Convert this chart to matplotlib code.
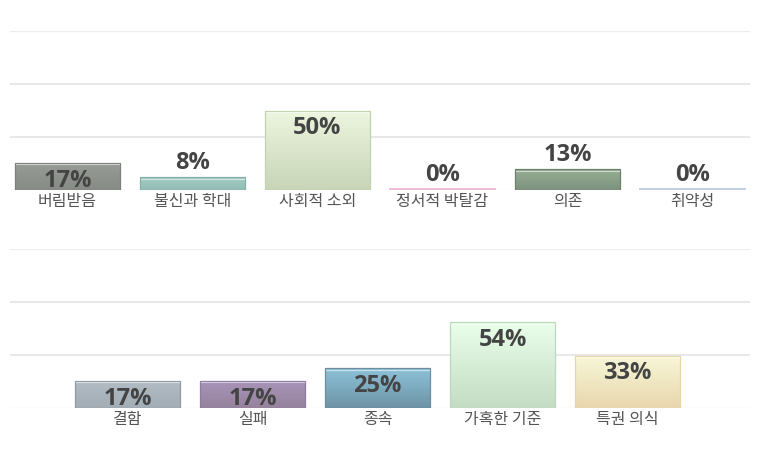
import numpy as np
import matplotlib.pyplot as plt
from matplotlib.colors import LinearSegmentedColormap

plt.rcParams['font.family'] = ['Open Sans', 'Noto Sans CJK KR', 'DejaVu Sans']

# top row
top_cats = ['버림받음', '불신과 학대', '사회적 소외', '정서적 박탈감', '의존', '취약성']
top_vals = [17, 8, 50, 0, 13, 0]
top_colors = [('#979c96', '#868b85', '#7b807a'),
              ('#a2cdc5', '#92bcb4', '#86b0a8'),
              ('#edf6df', '#c8d5b8', '#c3d2ae'),
              ('#f6d0e4', '#f6d0e4', '#efbcd8'),
              ('#96ae94', '#7e927d', '#6d836c'),
              ('#d2ddef', '#d2ddef', '#c2d0e8')]

# bottom row
bot_cats = ['결함', '실패', '종속', '가혹한 기준', '특권 의식']
bot_vals = [17, 17, 25, 54, 33]
bot_colors = [('#b1bcc4', '#a2adb5', '#8b9ba7'),
              ('#a994ba', '#95829c', '#8f7b9d'),
              ('#8cc2d8', '#6f93a5', '#6e8ea0'),
              ('#e9ffe9', '#c4dbc4', '#bcd8bc'),
              ('#f7f7d8', '#e9d7ad', '#e6d4a6')]

fig = plt.figure(figsize=(7.6, 4.7), dpi=100)
ax1 = fig.add_axes([10/760, 280/470, 740/760, 159/470])
ax2 = fig.add_axes([10/760, 62/470, 740/760, 159/470])


def draw(ax, cats, vals, colors, xmin):
    x = np.arange(len(cats))
    ax.set_xlim(xmin, xmin + 5.92)
    ax.set_ylim(0, 100)
    for g in [33.33, 66.67]:
        ax.axhline(g, color='#e8e8e8', lw=1.5, zorder=0)
    ax.axhline(100, color='#eeeeee', lw=0.9, zorder=0)
    ax.axhline(0, color='#e8e8e8', lw=0.9, zorder=0)
    bars = ax.bar(x, vals, width=0.84, zorder=2)
    for b, v, (c_top, c_bot, c_edge) in zip(bars, vals, colors):
        x0, w = b.get_x(), b.get_width()
        if v == 0:
            b.set_facecolor(c_edge)
            b.set_edgecolor(c_edge)
            b.set_linewidth(1.4)
            b.set_height(0.4)
        else:
            b.set_facecolor('none')
            b.set_edgecolor(c_edge)
            b.set_linewidth(0.9)
            cmap = LinearSegmentedColormap.from_list('g', [c_bot, c_top])
            grad = np.linspace(0, 1, 64).reshape(-1, 1)
            im = ax.imshow(grad, cmap=cmap, aspect='auto', origin='lower',
                           extent=[x0, x0 + w, 0, v], zorder=1.5)
            im.set_clip_path(b)
            # light highlight just under the top edge
            ax.plot([x0 + 0.01, x0 + w - 0.01], [v - 0.9, v - 0.9],
                    color='white', alpha=0.55, lw=0.8, zorder=2.5)
        if v >= 15:
            ax.annotate(f'{v}%', (b.get_x() + w / 2, v), xytext=(0, -4),
                        textcoords='offset points', ha='center', va='top',
                        fontsize=17, fontweight='bold', color='#444444',
                        zorder=3)
        else:
            ax.annotate(f'{v}%', (b.get_x() + w / 2, v), xytext=(0, 2),
                        textcoords='offset points', ha='center', va='bottom',
                        fontsize=17, fontweight='bold', color='#444444',
                        zorder=3)
    ax.set_xticks(x)
    ax.set_xticklabels(cats, fontsize=11.5, color='#555555',
                       family=['Noto Sans CJK KR', 'DejaVu Sans'])
    ax.tick_params(axis='x', length=0, pad=2)
    ax.set_yticks([])
    for s in ax.spines.values():
        s.set_visible(False)


draw(ax1, top_cats, top_vals, top_colors, -0.46)
draw(ax2, bot_cats, bot_vals, bot_colors, -0.94)

fig.savefig('out.png', dpi=100)
